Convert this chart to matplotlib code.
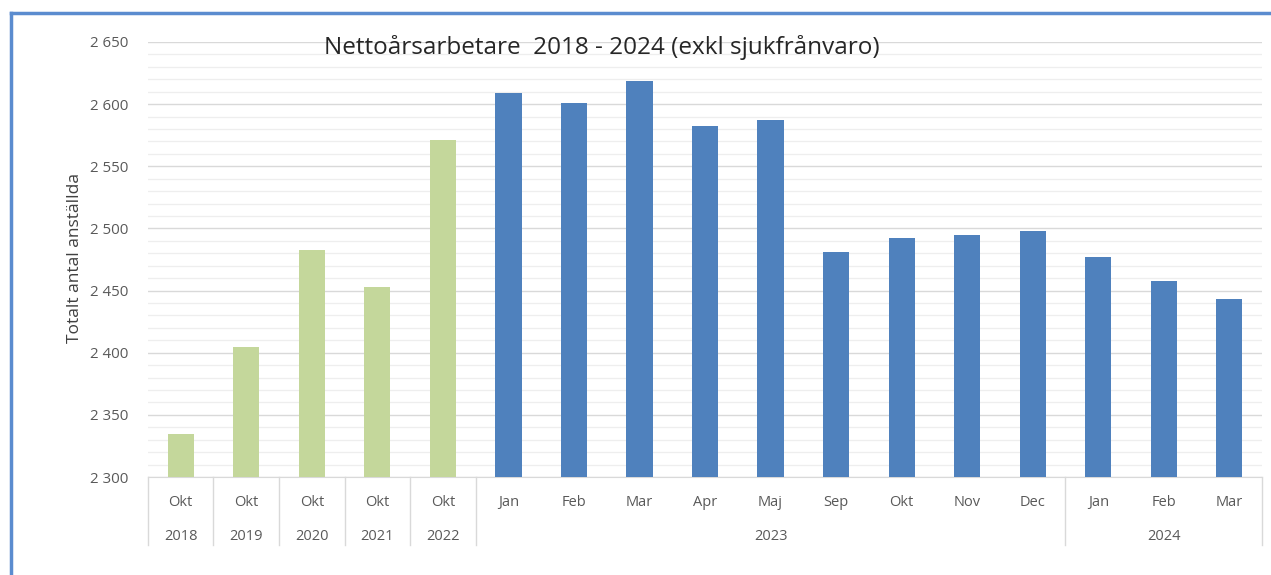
import numpy as np
import matplotlib.pyplot as plt
from matplotlib.ticker import MultipleLocator, FuncFormatter
from matplotlib.lines import Line2D
import matplotlib.transforms as mtransforms

plt.rcParams['font.family'] = ['Open Sans', 'DejaVu Sans']

months = ['Okt', 'Okt', 'Okt', 'Okt', 'Okt', 'Jan', 'Feb', 'Mar', 'Apr', 'Maj',
          'Sep', 'Okt', 'Nov', 'Dec', 'Jan', 'Feb', 'Mar']
years = ['2018', '2019', '2020', '2021', '2022', '2023', '2023', '2023', '2023', '2023',
         '2023', '2023', '2023', '2023', '2024', '2024', '2024']
values = [2335, 2405, 2483, 2453, 2571, 2609, 2601, 2619, 2582, 2587,
          2481, 2492, 2495, 2498, 2477, 2458, 2443]
is_october = [True] * 5 + [False] * 12

green = '#C4D79B'
blue = '#4F81BD'
txt = '#595959'

fig = plt.figure(figsize=(12.71, 5.75), dpi=100)
ax = fig.add_axes([0.1164, 0.1704, 0.8766, 0.7566])

x = np.arange(len(values))
colors = [green if o else blue for o in is_october]
ax.bar(x, values, width=0.4, color=colors, zorder=3)

ax.set_xlim(-0.5, len(values) - 0.5)
ax.set_ylim(2300, 2650)
ax.yaxis.set_major_locator(MultipleLocator(50))
ax.yaxis.set_minor_locator(MultipleLocator(10))
ax.yaxis.set_major_formatter(FuncFormatter(lambda v, p: f'{int(v):,}'.replace(',', ' ')))
ax.grid(axis='y', which='major', color='#D9D9D9', lw=1.0, zorder=0)
ax.grid(axis='y', which='minor', color='#EEEEEE', lw=0.9, zorder=0)
ax.tick_params(axis='y', which='both', length=0, pad=14, labelsize=10.8, labelcolor=txt)

for s in ['top', 'right', 'left']:
    ax.spines[s].set_visible(False)
ax.spines['bottom'].set_color('#D9D9D9')

ax.set_xticks(x)
ax.set_xticklabels(months)
ax.tick_params(axis='x', length=0, pad=13, labelsize=10.5, labelcolor=txt)

# year row and separators
trans = mtransforms.blended_transform_factory(ax.transData, ax.transAxes)
sep_bottom = -0.156
bounds = [0]
for i in range(1, len(years)):
    if years[i] != years[i - 1]:
        bounds.append(i)
bounds.append(len(years))
for b in bounds:
    ax.add_line(Line2D([b - 0.5, b - 0.5], [0, sep_bottom], transform=trans,
                       color='#D9D9D9', lw=1, clip_on=False))
for a, b in zip(bounds[:-1], bounds[1:]):
    ax.text((a + b - 1) / 2, -0.136, years[a], transform=trans, ha='center',
            va='center', fontsize=10.5, color=txt)

ax.set_ylabel('Totalt antal anställda', fontsize=12.5, color='#404040')
ax.yaxis.set_label_coords(-0.058, 0.503)

fig.text(0.4736, 0.918, 'Nettoårsarbetare  2018 - 2024 (exkl sjukfrånvaro)',
         ha='center', va='center', fontsize=17.5, color='#262626')

# blue frame (top and left edges visible)
fig.add_artist(Line2D([11 / 1271, 11 / 1271], [0, 1 - 13 / 575], color='#5B8CCF', lw=2.5))
fig.add_artist(Line2D([11 / 1271, 1], [1 - 13 / 575, 1 - 13 / 575], color='#5B8CCF', lw=2.5))

fig.savefig('out.png', dpi=100)
